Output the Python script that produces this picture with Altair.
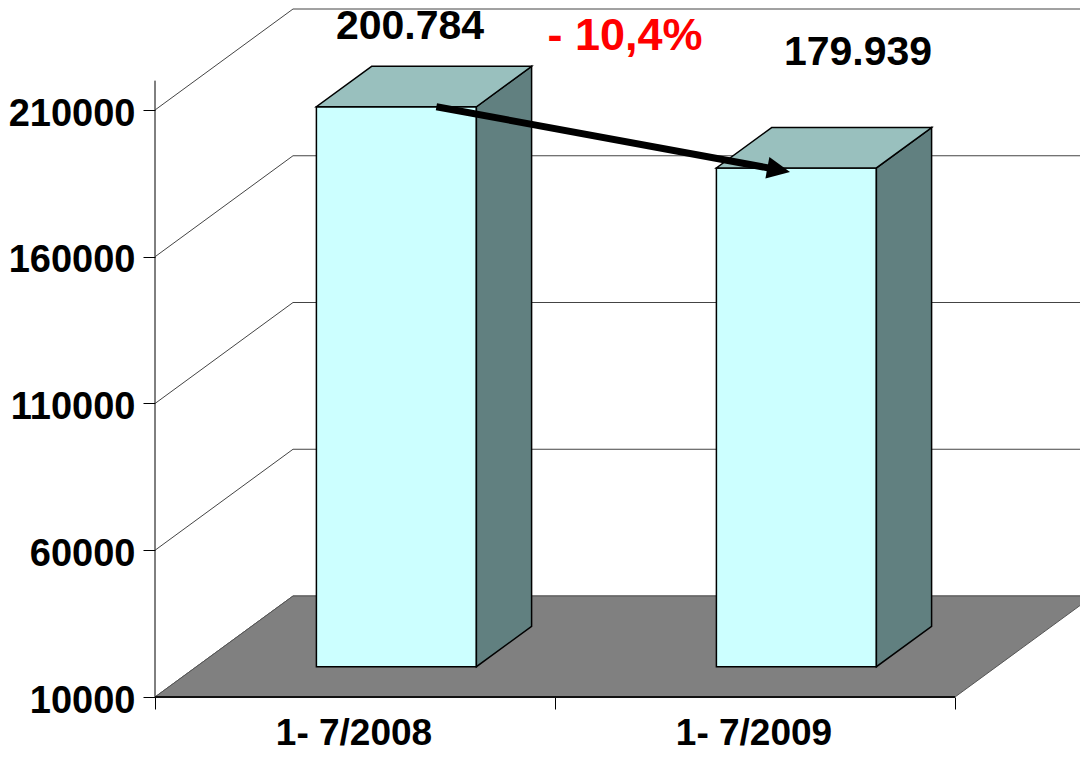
import math
import altair as alt
import pandas as pd

# ---------------- data ----------------
categories = ["1- 7/2008", "1- 7/2009"]
values = [200784, 179939]
y_ticks = [10000, 60000, 110000, 160000, 210000]
y_axis_top = 220000
x_ticks = [0, 1, 2]

# ---------------- geometry (layout constants) ----------------
W, H = 1072, 740
PX_PER_CAT = 400.0
X0 = 147.0                      # pixel of category coordinate 0
BASE = 10000
BASE_PX = 689.0                 # pixel of value BASE on the front plane
PX_PER_VAL = 146.75 / 50000
DX = 138.0 / PX_PER_CAT         # wall depth, category units
DY = 101.0 / PX_PER_VAL         # wall depth, value units
FD, BD = 0.3, 0.4               # bar front depth, bar depth (fractions)
BW0, BW1 = 0.3, 0.7             # bar position inside its band

x_dom = [-X0 / PX_PER_CAT, (W - X0) / PX_PER_CAT]
y_dom = [BASE - (H - BASE_PX) / PX_PER_VAL, BASE + BASE_PX / PX_PER_VAL]
xs = alt.Scale(domain=x_dom, nice=False, zero=False)
ys = alt.Scale(domain=y_dom, nice=False, zero=False)
FONT = "Liberation Sans"

AX = alt.Axis(values=x_ticks, offset=-(H - BASE_PX), domain=False, grid=False,
              labels=False, title=None, tickSize=12, tickColor="black", tickWidth=1)
AY = alt.Axis(values=y_ticks, offset=-X0, domain=False, grid=False, title=None,
              tickSize=12, tickColor="black", tickWidth=1, format="d",
              labelFont=FONT, labelFontWeight="bold", labelFontSize=38,
              labelColor="black", labelPadding=8, labelOffset=4,
              labelOverlap=False, labelFlush=False)


def X(f):
    return alt.X(f, type="quantitative", scale=xs, axis=AX, title=None)


def Y(f):
    return alt.Y(f, type="quantitative", scale=ys, axis=AY, stack=None, title=None)


# ---------------- axis line ----------------
axis_df = pd.DataFrame({"x": [0], "y": [BASE], "y2": [y_axis_top]})
axis_layer = alt.Chart(axis_df).mark_rule(color="black", strokeWidth=1).encode(
    x=X("x"), y=Y("y"), y2=alt.Y2("y2"),
)

# ---------------- 3D gridlines ----------------
grid_rows = []
for t in y_ticks:
    grid_rows += [
        {"t": t, "o": 0, "x": 0.0, "y": t},
        {"t": t, "o": 1, "x": DX, "y": t + DY},
        {"t": t, "o": 2, "x": x_dom[1] + 0.1, "y": t + DY},
    ]
grid = alt.Chart(pd.DataFrame(grid_rows)).mark_line(
    color="#444444", strokeWidth=1, clip=True
).encode(x=X("x"), y=Y("y"), detail="t:N", order="o:Q")

# ---------------- floor ----------------
floor_df = pd.DataFrame({
    "y": [BASE, BASE + DY],
    "x": [0.0, DX],
    "x2": [len(categories), len(categories) + DX],
})
floor = alt.Chart(floor_df).mark_area(
    orient="horizontal", color="#808080", stroke="#555555", strokeWidth=1, clip=True
).encode(y=Y("y"), x=X("x"), x2=alt.X2("x2"))

front_edge = alt.Chart(pd.DataFrame({"x": [0], "x2": [len(categories)], "y": [BASE]})).mark_rule(
    color="#111111", strokeWidth=2
).encode(x=X("x"), x2=alt.X2("x2"), y=Y("y"))

# ---------------- bars ----------------
front_rows, side_rows, top_rows = [], [], []
for i, v in enumerate(values):
    xl = i + BW0 + FD * DX
    xr = i + BW1 + FD * DX
    yb = BASE + FD * DY
    yt = v + FD * DY
    front_rows.append({"x": xl, "x2": xr, "y": yb, "y2": yt})
    side_rows += [
        {"bar": i, "x": xr, "y": yt, "y2": yb},
        {"bar": i, "x": xr + BD * DX, "y": yt + BD * DY, "y2": yb + BD * DY},
    ]
    top_rows += [
        {"bar": i, "y": yt, "x": xl, "x2": xr},
        {"bar": i, "y": yt + BD * DY, "x": xl + BD * DX, "x2": xr + BD * DX},
    ]

bar_front = alt.Chart(pd.DataFrame(front_rows)).mark_rect(
    fill="#CCFFFF", stroke="black", strokeWidth=1.5
).encode(x=X("x"), x2=alt.X2("x2"), y=Y("y"), y2=alt.Y2("y2"))

bar_side = alt.Chart(pd.DataFrame(side_rows)).mark_area(
    orient="vertical", fill="#618080", stroke="black", strokeWidth=1.5, fillOpacity=1
).encode(x=X("x"), y=Y("y"), y2=alt.Y2("y2"), detail="bar:N")

bar_top = alt.Chart(pd.DataFrame(top_rows)).mark_area(
    orient="horizontal", fill="#99C0BE", stroke="black", strokeWidth=1.5, fillOpacity=1
).encode(y=Y("y"), x=X("x"), x2=alt.X2("x2"), detail="bar:N")

# ---------------- arrow ----------------
start_u = 0 + BW0 + FD * DX + 0.75 * (BW1 - BW0)
start_v = values[0] + FD * DY
tip_u = 1 + BW0 + FD * DX + 0.46 * (BW1 - BW0)
tip_v = values[1] + FD * DY - 4 / PX_PER_VAL
dxp = (tip_u - start_u) * PX_PER_CAT
dyp = (start_v - tip_v) * PX_PER_VAL
L = math.hypot(dxp, dyp)
angle = math.degrees(math.atan2(dyp, dxp))
back = 15.0
end_u = tip_u - back * dxp / L / PX_PER_CAT
end_v = tip_v + back * dyp / L / PX_PER_VAL

arrow_line = alt.Chart(pd.DataFrame({"x": [start_u, end_u], "y": [start_v, end_v], "o": [0, 1]})).mark_line(
    color="black", strokeWidth=7
).encode(x=X("x"), y=Y("y"), order="o:Q")

arrow_head = alt.Chart(pd.DataFrame({"x": [tip_u], "y": [tip_v]})).mark_point(
    shape="M-2,-0.95L0,0L-2,0.95Z", filled=True, size=529, angle=angle,
    color="black", opacity=1, strokeWidth=0
).encode(x=X("x"), y=Y("y"))

# ---------------- texts ----------------
lab_df = pd.DataFrame({
    "i": list(range(len(values))),
    "x": [i + 0.5 for i in range(len(values))],
    "y": values,
    "label": [f"{v:,}".replace(",", ".") for v in values],
    "cat": categories,
    "base": [BASE] * len(values),
})

val_lab0 = alt.Chart(lab_df).transform_filter(alt.datum.i == 0).mark_text(
    font=FONT, fontWeight="bold", fontSize=41, color="black", baseline="alphabetic",
    align="center", dx=55, dy=-98
).encode(x=X("x"), y=Y("y"), text="label:N")

val_lab1 = alt.Chart(lab_df).transform_filter(alt.datum.i == 1).mark_text(
    font=FONT, fontWeight="bold", fontSize=41, color="black", baseline="alphabetic",
    align="center", dx=103, dy=-133
).encode(x=X("x"), y=Y("y"), text="label:N")

cat_lab = alt.Chart(lab_df).mark_text(
    font=FONT, fontWeight="bold", fontSize=37, color="black", baseline="alphabetic",
    align="center", dx=-1, dy=48
).encode(x=X("x"), y=Y("base"), text="cat:N")

pct = (values[1] - values[0]) / values[0] * 100
pct_text = ("- " if pct < 0 else "+ ") + f"{abs(pct):.1f}".replace(".", ",") + "%"
chg_df = pd.DataFrame({"x": [1.0], "y": [values[0]], "label": [pct_text]})
chg_lab = alt.Chart(chg_df).mark_text(
    font=FONT, fontWeight="bold", fontSize=45, color="#FF0000", baseline="alphabetic",
    align="center", dx=70, dy=-87
).encode(x=X("x"), y=Y("y"), text="label:N")

chart = alt.layer(
    axis_layer, grid, floor, front_edge, bar_front, bar_side, bar_top,
    arrow_line, arrow_head, val_lab0, val_lab1, cat_lab, chg_lab
).properties(
    width=W, height=H, autosize=alt.AutoSizeParams(type="none"), padding=0,
    background="white"
).configure_view(stroke=None)

chart.save("out.html", embed_options={"renderer": "svg", "actions": False})
